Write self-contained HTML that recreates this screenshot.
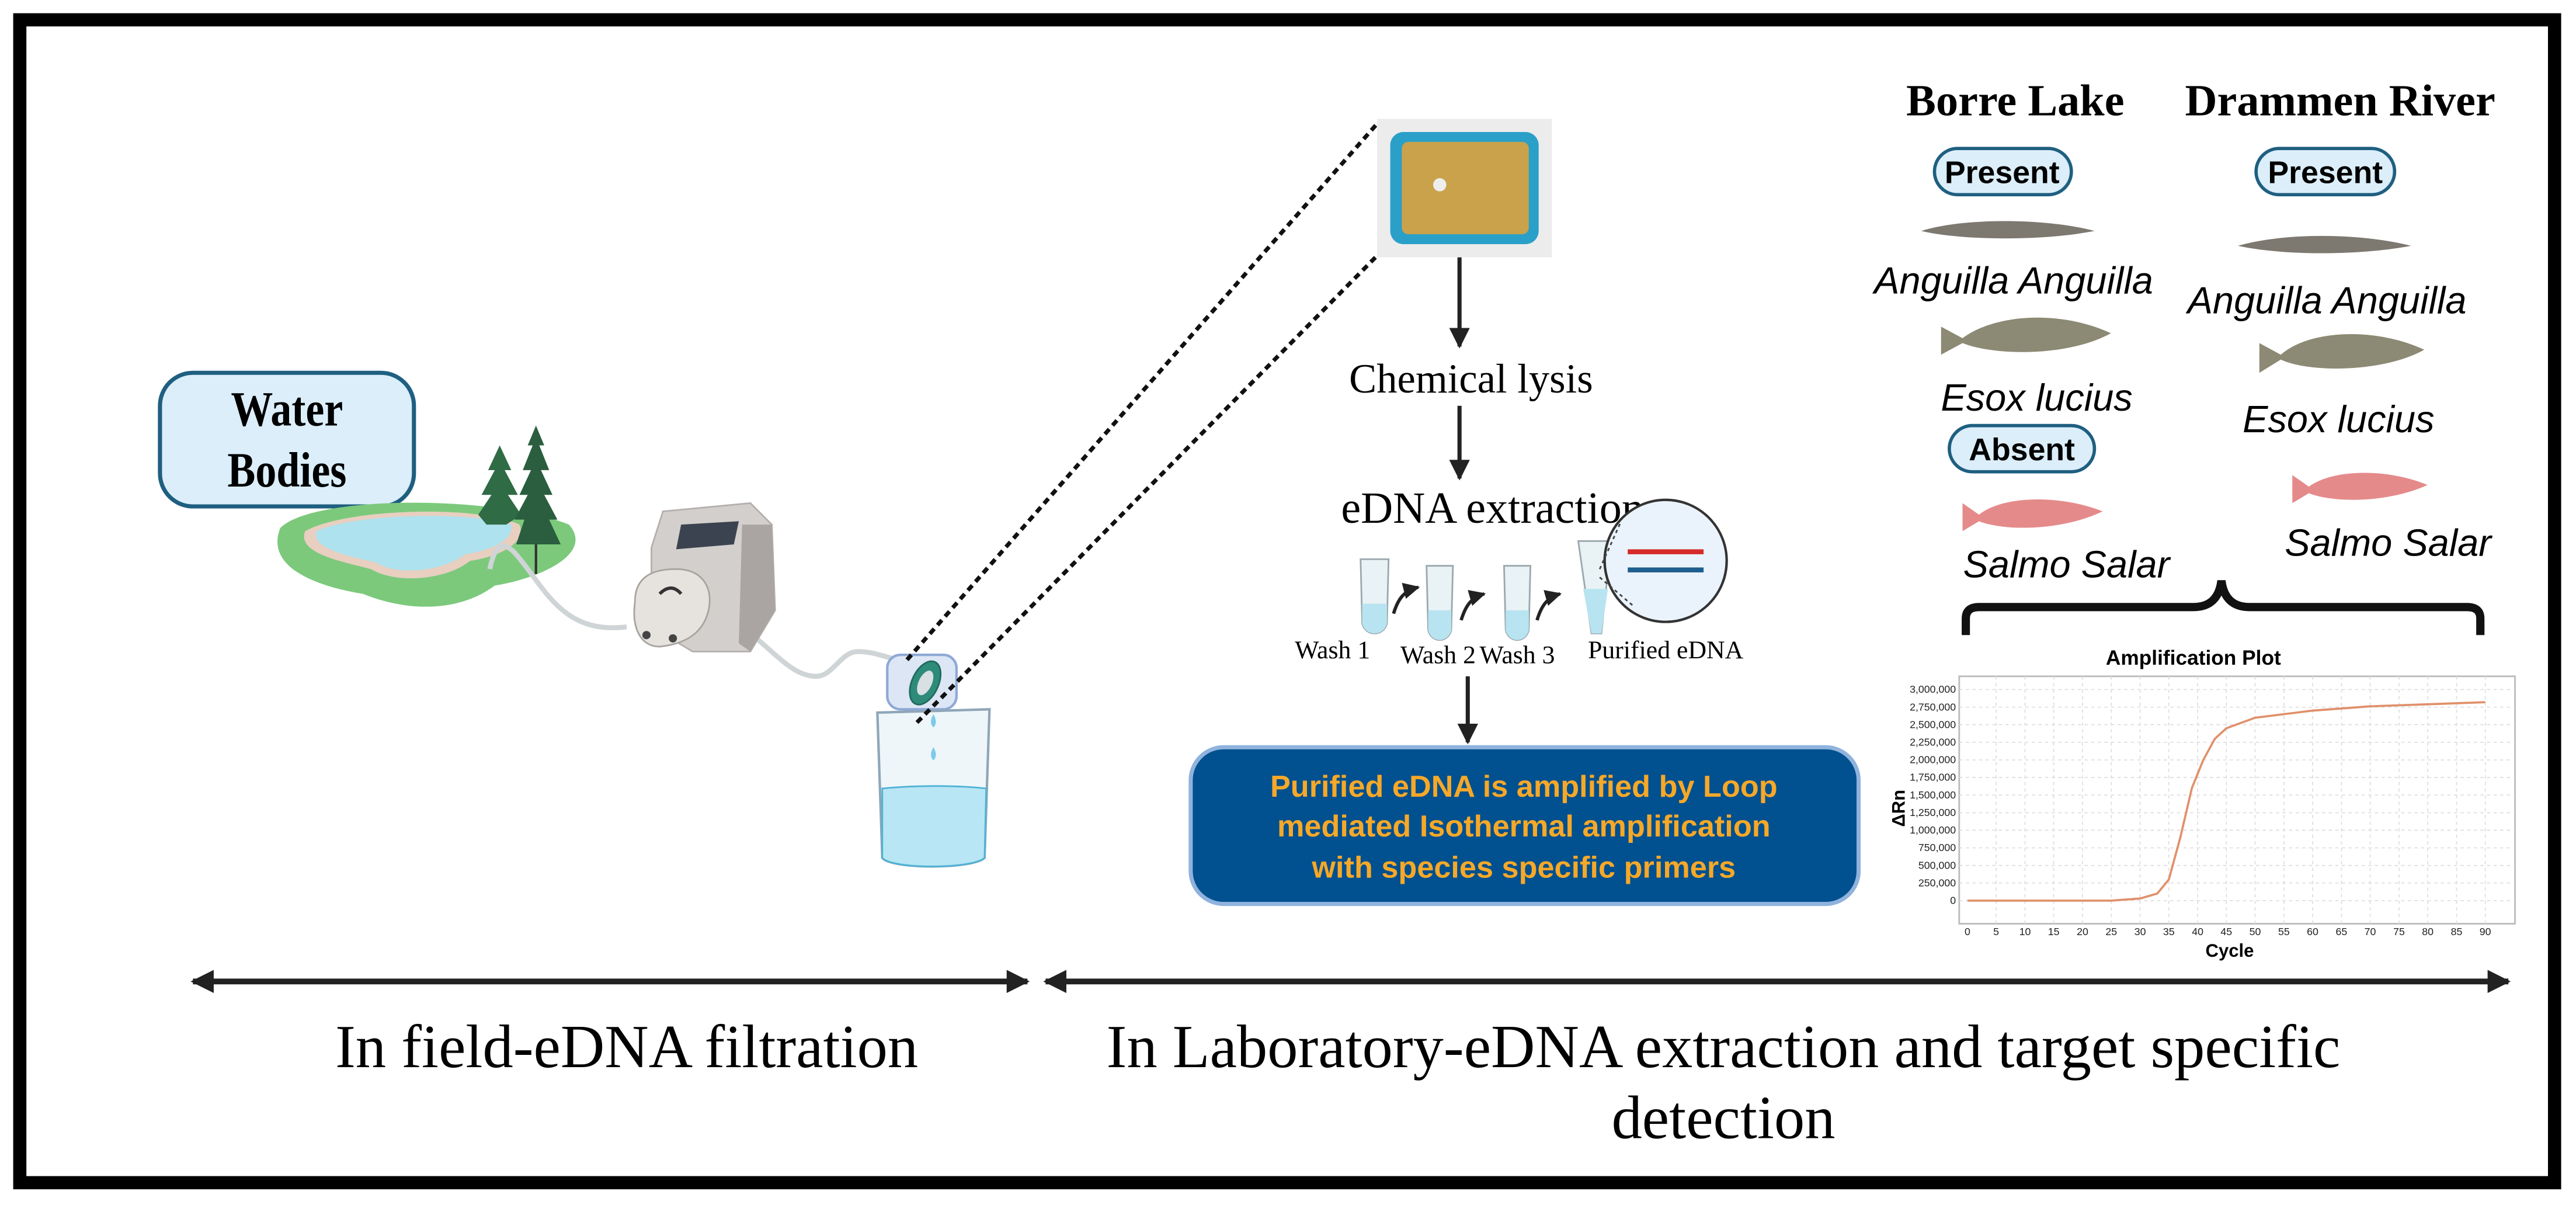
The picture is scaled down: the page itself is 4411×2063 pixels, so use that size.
<!DOCTYPE html>
<html><head><meta charset="utf-8"><style>html,body{margin:0;padding:0;background:#fff}svg{display:block}</style></head>
<body>
<svg width="4411" height="2063" viewBox="0 0 1562 730.5" xmlns="http://www.w3.org/2000/svg">
<defs>
<marker id="ah" viewBox="0 0 10 10" refX="9" refY="5" markerWidth="4" markerHeight="4" orient="auto-start-reverse"><path d="M0,0L10,5L0,10z" fill="#222"/></marker>
<marker id="ah2" viewBox="0 0 10 10" refX="9" refY="5" markerWidth="5" markerHeight="5" orient="auto"><path d="M0,0L10,5L0,10z" fill="#222"/></marker>
</defs>
<rect x="0" y="0" width="1562" height="730.5" fill="#fff"/>
<rect x="12" y="12" width="1537" height="705" fill="none" stroke="#000" stroke-width="8"/>

<!-- Water Bodies -->
<rect x="97" y="226" width="154" height="81" rx="20" fill="#dbeefa" stroke="#1f5f80" stroke-width="2.5"/>
<text x="174" y="258" font-family="Liberation Serif, serif" font-weight="bold" font-size="30" text-anchor="middle" transform="translate(174 0) scale(0.85 1) translate(-174 0)">Water</text>
<text x="174" y="295" font-family="Liberation Serif, serif" font-weight="bold" font-size="30" text-anchor="middle" transform="translate(174 0) scale(0.85 1) translate(-174 0)">Bodies</text>

<!-- lake -->
<path d="M170,320 C190,300 300,300 345,318 C360,335 330,350 300,355 C280,370 250,372 220,360 C195,356 160,345 170,320z" fill="#7cc97c"/>
<path d="M185,322 C210,308 290,306 315,318 C320,330 300,338 285,340 C270,352 240,354 225,345 C205,340 180,335 185,322z" fill="#e8cfc0"/>
<path d="M192,322 C215,311 288,310 310,318 C312,328 296,334 282,336 C268,347 240,349 228,341 C210,337 188,332 192,322z" fill="#aee2ee"/>
<path d="M307,318 L295,318 L290,312 L298,300 L292,300 L300,285 L296,285 L303,270 L310,285 L306,285 L314,300 L308,300 L316,312z" fill="#2f6b45"/>
<path d="M330,330 L313,330 L318,315 L312,315 L320,300 L315,300 L322,285 L317,285 L323,270 L320,270 L325,258 L330,270 L327,270 L333,285 L328,285 L335,300 L330,300 L338,315 L333,315 L340,330z" fill="#2a5e3e"/>
<line x1="325" y1="330" x2="325" y2="348" stroke="#333" stroke-width="1.5"/>
<path d="M297,345 C300,330 305,328 312,335 C330,355 340,385 380,380" fill="none" stroke="#cfd4d6" stroke-width="3"/>
<path d="M450,380 C470,395 480,410 495,410 C505,410 510,395 520,395 C530,395 535,398 545,400" fill="none" stroke="#cfd4d6" stroke-width="3"/>
<path d="M395,332 L402,310 L455,305 L468,318 L470,370 L455,395 L420,395 L395,380z" fill="#d3cfcc" stroke="#b5b0ad"/>
<path d="M450,318 L468,318 L470,370 L455,395 L448,390z" fill="#aaa5a2"/>
<path d="M413,318 L448,316 L445,330 L410,333z" fill="#3c4350"/>
<path d="M385,365 C385,350 395,345 410,345 C425,345 432,355 430,368 C428,380 420,390 400,392 C388,392 383,380 385,365z" fill="#e6e2de" stroke="#a8a4a0"/>
<circle cx="392" cy="385" r="2.5" fill="#444"/><circle cx="408" cy="387" r="2.5" fill="#444"/>
<path d="M400,360 Q407,353 413,360" stroke="#333" stroke-width="2" fill="none"/>
<rect x="538" y="397" width="42" height="33" rx="8" fill="#dce6f5" stroke="#8fa9d6" stroke-width="1.5"/>
<ellipse cx="561" cy="414" rx="8" ry="14" transform="rotate(25 561 414)" fill="#2e8b7a" stroke="#1f6b5c"/>
<ellipse cx="561" cy="414" rx="4" ry="8" transform="rotate(25 561 414)" fill="#d8e0e3"/>
<path d="M532,432 L600,430 L597,520 C590,527 540,527 535,520z" fill="#eef6fa" stroke="#8fa6b8" stroke-width="1.5"/>
<path d="M535,478 C555,476 580,476 598,478 L597,520 C590,527 540,527 535,520z" fill="#b9e6f4" stroke="#4fb3d6"/>
<path d="M566,453 q-3,5 0,8 q3,-3 0,-8z" fill="#7ccbe8"/>
<path d="M566,433 q-3,5 0,8 q3,-3 0,-8z" fill="#7ccbe8"/>
<line x1="550" y1="400" x2="835" y2="75" stroke="#111" stroke-width="2.5" stroke-dasharray="4,3"/>
<line x1="556" y1="438" x2="835" y2="155" stroke="#111" stroke-width="2.5" stroke-dasharray="4,3"/>
<rect x="835" y="72" width="106" height="84" fill="#ececec"/>
<rect x="843" y="80" width="90" height="68" rx="8" fill="#2a9fc8"/>
<rect x="850" y="86" width="77" height="56" rx="4" fill="#c9a24b"/>
<circle cx="873" cy="112" r="4" fill="#eee"/>
<line x1="885" y1="156" x2="885" y2="210" stroke="#222" stroke-width="2.5" marker-end="url(#ah2)"/>
<text x="892" y="238" font-family="Liberation Serif, serif" font-size="25" text-anchor="middle">Chemical lysis</text>
<line x1="885" y1="246" x2="885" y2="290" stroke="#222" stroke-width="2.5" marker-end="url(#ah2)"/>
<text x="905" y="317" font-family="Liberation Serif, serif" font-size="27" text-anchor="middle">eDNA extraction</text>
<g fill="#e9f2f5" stroke="#9aa9ae" stroke-width="1">
<path d="M825,339 L842,339 L841,378 C839,386 828,386 826,378z"/>
<path d="M865,343 L881,343 L880,382 C878,390 868,390 866,382z"/>
<path d="M912,343 L928,343 L927,382 C925,390 915,390 913,382z"/>
<path d="M957,328 L977,328 L971,384 L965,384z"/>
</g>
<g fill="#b8e4f1">
<path d="M826,366 L841,366 L841,378 C839,386 828,386 826,378z"/>
<path d="M866,370 L880,370 L880,382 C878,390 868,390 866,382z"/>
<path d="M913,370 L927,370 L927,382 C925,390 915,390 913,382z"/>
<path d="M960,357 L975,357 L971,384 L965,384z"/>
</g>
<path d="M845,372 C848,362 852,358 860,356" stroke="#222" stroke-width="2" fill="none" marker-end="url(#ah2)"/>
<path d="M886,376 C889,366 893,362 900,360" stroke="#222" stroke-width="2" fill="none" marker-end="url(#ah2)"/>
<path d="M932,376 C935,366 939,362 946,360" stroke="#222" stroke-width="2" fill="none" marker-end="url(#ah2)"/>
<circle cx="1010" cy="340" r="37" fill="#eaf3fc" stroke="#333" stroke-width="1.5"/>
<rect x="987" y="333" width="46" height="3" fill="#d62b2b"/><rect x="987" y="344" width="46" height="3" fill="#1f5f8f"/>
<line x1="970" y1="345" x2="983" y2="316" stroke="#444" stroke-dasharray="2,2"/>
<line x1="970" y1="350" x2="990" y2="367" stroke="#444" stroke-dasharray="2,2"/>
<g font-family="Liberation Serif, serif" font-size="15.5" text-anchor="middle">
<text x="808" y="399">Wash 1</text><text x="872" y="402">Wash 2</text><text x="920" y="402">Wash 3</text><text x="1010" y="399">Purified eDNA</text>
</g>
<line x1="890" y1="410" x2="890" y2="450" stroke="#222" stroke-width="2.5" marker-end="url(#ah2)"/>
<rect x="722" y="453" width="405" height="95" rx="20" fill="#01508f" stroke="#8fb3dd" stroke-width="2.5"/>
<g font-family="Liberation Sans, sans-serif" font-weight="bold" font-size="18.5" fill="#f6a828" text-anchor="middle">
<text x="924" y="483">Purified eDNA is amplified by Loop</text>
<text x="924" y="507">mediated Isothermal amplification</text>
<text x="924" y="532">with species specific primers</text>
</g>
<g font-family="Liberation Serif, serif" font-weight="bold" font-size="27" text-anchor="middle">
<text x="1222" y="70">Borre Lake</text><text x="1419" y="70">Drammen River</text>
</g>
<g fill="#dbeefa" stroke="#1f5f80" stroke-width="2">
<rect x="1173" y="90" width="83" height="28" rx="14"/><rect x="1368" y="90" width="84" height="28" rx="14"/><rect x="1182" y="258" width="88" height="28" rx="14"/>
</g>
<g font-family="Liberation Sans, sans-serif" font-weight="bold" font-size="19" text-anchor="middle">
<text x="1214" y="111">Present</text><text x="1410" y="111">Present</text><text x="1226" y="279">Absent</text>
</g>
<path d="M1165,140 C1190,132 1240,132 1270,140 C1240,146 1190,146 1165,140z" fill="#7d7870"/>
<path d="M1357,149 C1385,141 1430,141 1462,149 C1430,155 1385,155 1357,149z" fill="#7d7870"/>
<path d="M1177,198 L1190,205 C1210,190 1250,188 1280,202 C1255,216 1210,216 1190,208 L1177,215z" fill="#8c8a74"/>
<path d="M1370,208 L1383,215 C1400,200 1440,198 1470,212 C1445,226 1400,226 1383,218 L1370,226z" fill="#8c8a74"/>
<path d="M1190,305 L1200,312 C1215,300 1250,300 1275,310 C1250,322 1215,322 1200,316 L1190,322z" fill="#e58a8a"/>
<path d="M1390,288 L1400,295 C1415,284 1448,284 1472,294 C1448,305 1415,305 1400,299 L1390,305z" fill="#e58a8a"/>
<g font-family="Liberation Sans, sans-serif" font-style="italic" font-size="23" text-anchor="middle">
<text x="1221" y="178">Anguilla Anguilla</text><text x="1411" y="190">Anguilla Anguilla</text>
<text x="1235" y="249">Esox lucius</text><text x="1418" y="262">Esox lucius</text>
<text x="1253" y="350">Salmo Salar</text><text x="1448" y="337">Salmo Salar</text>
</g>
<path d="M1192,385 L1192,375 Q1192,368 1200,368 L1330,368 Q1345,368 1347,352 Q1349,368 1364,368 L1496,368 Q1504,368 1504,375 L1504,385" fill="none" stroke="#111" stroke-width="5"/>
<text x="1330" y="403" font-family="Liberation Sans, sans-serif" font-weight="bold" font-size="12.5" text-anchor="middle">Amplification Plot</text>
<rect x="1188" y="410" width="337" height="150" fill="#fff" stroke="#bbb"/>
<g stroke="#ddd" stroke-width="0.6" stroke-dasharray="2,2">
<line x1="1188" y1="418" x2="1525" y2="418"/><line x1="1188" y1="428.7" x2="1525" y2="428.7"/><line x1="1188" y1="439.3" x2="1525" y2="439.3"/><line x1="1188" y1="450" x2="1525" y2="450"/><line x1="1188" y1="460.7" x2="1525" y2="460.7"/><line x1="1188" y1="471.3" x2="1525" y2="471.3"/><line x1="1188" y1="482" x2="1525" y2="482"/><line x1="1188" y1="492.7" x2="1525" y2="492.7"/><line x1="1188" y1="503.3" x2="1525" y2="503.3"/><line x1="1188" y1="514" x2="1525" y2="514"/><line x1="1188" y1="524.7" x2="1525" y2="524.7"/><line x1="1188" y1="535.3" x2="1525" y2="535.3"/><line x1="1188" y1="546" x2="1525" y2="546"/>
<line x1="1210.4" y1="410" x2="1210.4" y2="560"/><line x1="1227.9" y1="410" x2="1227.9" y2="560"/><line x1="1245.3" y1="410" x2="1245.3" y2="560"/><line x1="1262.8" y1="410" x2="1262.8" y2="560"/><line x1="1280.2" y1="410" x2="1280.2" y2="560"/><line x1="1297.7" y1="410" x2="1297.7" y2="560"/><line x1="1315.1" y1="410" x2="1315.1" y2="560"/><line x1="1332.6" y1="410" x2="1332.6" y2="560"/><line x1="1350" y1="410" x2="1350" y2="560"/><line x1="1367.4" y1="410" x2="1367.4" y2="560"/><line x1="1384.9" y1="410" x2="1384.9" y2="560"/><line x1="1402.3" y1="410" x2="1402.3" y2="560"/><line x1="1419.8" y1="410" x2="1419.8" y2="560"/><line x1="1437.2" y1="410" x2="1437.2" y2="560"/><line x1="1454.7" y1="410" x2="1454.7" y2="560"/><line x1="1472.1" y1="410" x2="1472.1" y2="560"/><line x1="1489.6" y1="410" x2="1489.6" y2="560"/><line x1="1507" y1="410" x2="1507" y2="560"/>
</g>
<path d="M1193,546 L1280,546 L1297.7,544.7 L1308.1,541.7 L1315.1,533.2 L1322.1,507.6 L1329.1,477.7 L1336,460.7 L1343,447.9 L1350,441.5 L1367.4,435.1 L1402.3,430.8 L1437.2,428.2 L1507,425.7" fill="none" stroke="#e0906a" stroke-width="1.3"/>
<g font-family="Liberation Sans, sans-serif" font-size="6.3" text-anchor="end" fill="#222">
<text x="1186" y="420">3,000,000</text><text x="1186" y="430.7">2,750,000</text><text x="1186" y="441.3">2,500,000</text><text x="1186" y="452">2,250,000</text><text x="1186" y="462.7">2,000,000</text><text x="1186" y="473.3">1,750,000</text><text x="1186" y="484">1,500,000</text><text x="1186" y="494.7">1,250,000</text><text x="1186" y="505.3">1,000,000</text><text x="1186" y="516">750,000</text><text x="1186" y="526.7">500,000</text><text x="1186" y="537.3">250,000</text><text x="1186" y="548">0</text>
</g>
<g font-family="Liberation Sans, sans-serif" font-size="6.3" text-anchor="middle" fill="#222">
<text x="1193" y="567">0</text><text x="1210.4" y="567">5</text><text x="1227.9" y="567">10</text><text x="1245.3" y="567">15</text><text x="1262.8" y="567">20</text><text x="1280.2" y="567">25</text><text x="1297.7" y="567">30</text><text x="1315.1" y="567">35</text><text x="1332.6" y="567">40</text><text x="1350" y="567">45</text><text x="1367.4" y="567">50</text><text x="1384.9" y="567">55</text><text x="1402.3" y="567">60</text><text x="1419.8" y="567">65</text><text x="1437.2" y="567">70</text><text x="1454.7" y="567">75</text><text x="1472.1" y="567">80</text><text x="1489.6" y="567">85</text><text x="1507" y="567">90</text>
</g>
<text x="1352" y="580" font-family="Liberation Sans, sans-serif" font-weight="bold" font-size="11" text-anchor="middle">Cycle</text>
<text x="1155" y="490" font-family="Liberation Sans, sans-serif" font-weight="bold" font-size="11" text-anchor="middle" transform="rotate(-90 1155 490)">ΔRn</text>
<line x1="117" y1="595" x2="623" y2="595" stroke="#222" stroke-width="3.5" marker-start="url(#ah)" marker-end="url(#ah)"/>
<line x1="634" y1="595" x2="1521" y2="595" stroke="#222" stroke-width="3.5" marker-start="url(#ah)" marker-end="url(#ah)"/>
<g font-family="Liberation Serif, serif" font-size="37" text-anchor="middle">
<text x="380" y="647">In field-eDNA filtration</text>
<text x="1045" y="647">In Laboratory-eDNA extraction and target specific</text>
<text x="1045" y="690">detection</text>
</g>
</svg>
</body></html>
